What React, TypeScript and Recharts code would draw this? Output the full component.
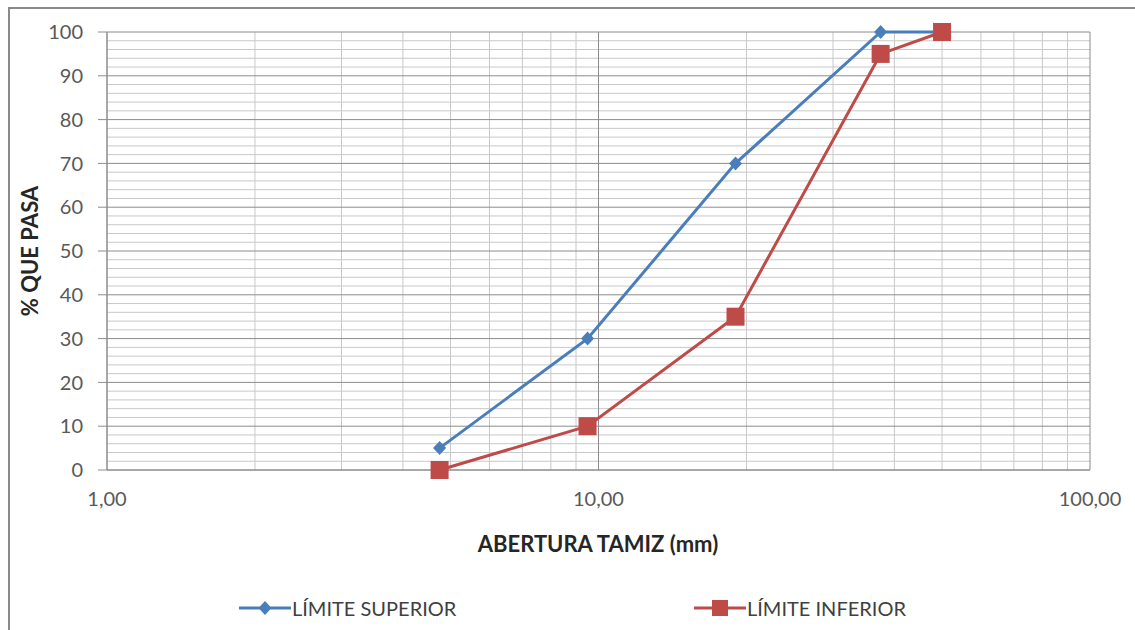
import React from "react";
import { LineChart, Line, XAxis, YAxis, ReferenceLine, Label } from "recharts";

// Sieve opening (mm) and % passing for the gradation envelope
const sieveSizes = [4.75, 9.5, 19, 37.5, 50];
const upperLimit = [5, 30, 70, 100, 100];
const lowerLimit = [0, 10, 35, 95, 100];

const xTicks = [1, 10, 100];
const yTicks = [0, 10, 20, 30, 40, 50, 60, 70, 80, 90, 100];

const BLUE = "#4A7EBB";
const RED = "#BE4B48";
const FONT = "Lato, 'Open Sans', sans-serif";
const TEXT = "#595959";
const MAJOR = "#8c8c8c";
const MINOR = "#c8c8c8";

const data = sieveSizes.map((size, i) => ({
  size,
  upper: upperLimit[i],
  lower: lowerLimit[i],
}));

// log minor lines 2..9 inside each decade, and every 2 % on the y axis
const xMinor = xTicks.slice(0, -1).flatMap((d) => [2, 3, 4, 5, 6, 7, 8, 9].map((m) => m * d));
const yMinor = yTicks.slice(0, -1).flatMap((t) => [2, 4, 6, 8].map((m) => t + m));

const fmtMm = (v: number) => v.toFixed(2).replace(".", ",");

function Diamond(props: any) {
  const { cx, cy } = props;
  if (cx == null || cy == null) return null;
  return <path d={`M${cx},${cy - 7}L${cx + 6.5},${cy}L${cx},${cy + 7}L${cx - 6.5},${cy}Z`} fill={BLUE} />;
}

function Square(props: any) {
  const { cx, cy } = props;
  if (cx == null || cy == null) return null;
  return <rect x={cx - 9} y={cy - 9} width={18} height={18} fill={RED} />;
}

function LegendItem({ left, color, marker, label }: { left: number; color: string; marker: "diamond" | "square"; label: string }) {
  return (
    <div style={{ position: "absolute", left, top: 0, display: "flex", alignItems: "center" }}>
      <svg width={52} height={20}>
        <line x1={0} y1={10} x2={52} y2={10} stroke={color} strokeWidth={3} />
        {marker === "diamond" ? (
          <path d="M26,3L32.5,10L26,17L19.5,10Z" fill={color} />
        ) : (
          <rect x={18} y={2} width={16} height={16} fill={color} />
        )}
      </svg>
      <span style={{ marginLeft: 1 }}>{label}</span>
    </div>
  );
}

export default function App() {
  return (
    <div style={{ position: "absolute", left: 0, top: 0, width: 1135, height: 630, background: "#fff", fontFamily: FONT }}>
      <div
        style={{
          position: "absolute",
          left: 8,
          top: 7,
          width: 1135,
          height: 640,
          border: "2px solid #8a8a8a",
          boxSizing: "border-box",
        }}
      />
      <LineChart
        width={1135}
        height={630}
        data={data}
        margin={{ top: 32, right: 45, bottom: 0, left: 0 }}
        style={{ position: "absolute", left: 0, top: 0 }}
      >
        {xMinor.map((v) => (
          <ReferenceLine key={`vx${v}`} x={v} stroke={MINOR} strokeWidth={1} />
        ))}
        {yMinor.map((v) => (
          <ReferenceLine key={`hy${v}`} y={v} stroke={MINOR} strokeWidth={1} />
        ))}
        {yTicks.map((v) => (
          <ReferenceLine key={`my${v}`} y={v} stroke={MAJOR} strokeWidth={1} />
        ))}
        {xTicks.map((v) => (
          <ReferenceLine key={`mx${v}`} x={v} stroke={MAJOR} strokeWidth={1} />
        ))}
        <XAxis
          dataKey="size"
          type="number"
          scale="log"
          domain={[1, 100]}
          ticks={xTicks}
          tickFormatter={fmtMm}
          allowDataOverflow
          height={160}
          axisLine={{ stroke: MAJOR }}
          tickLine={false}
          tickSize={8}
          tickMargin={14}
          tick={{ fill: TEXT, fontSize: 20, fontFamily: FONT }}
        >
          <Label
            content={() => (
              <text x={598} y={552} textAnchor="middle" fontSize={22} fontWeight={700} fill="#262626" fontFamily={FONT}>
                ABERTURA TAMIZ (mm)
              </text>
            )}
          />
        </XAxis>
        <YAxis
          type="number"
          domain={[0, 100]}
          ticks={yTicks}
          width={107}
          axisLine={{ stroke: MAJOR }}
          tickLine={{ stroke: MAJOR }}
          tickSize={9}
          tickMargin={15}
          tick={{ fill: TEXT, fontSize: 20, fontFamily: FONT }}
        >
          <Label
            content={() => (
              <text
                x={38}
                y={251}
                textAnchor="middle"
                fontSize={22}
                fontWeight={700}
                fill="#262626"
                fontFamily={FONT}
                transform="rotate(-90 38 251)"
              >
                % QUE PASA
              </text>
            )}
          />
        </YAxis>
        <Line
          dataKey="upper"
          name="LÍMITE SUPERIOR"
          stroke={BLUE}
          strokeWidth={3}
          dot={<Diamond />}
          activeDot={false}
          isAnimationActive={false}
        />
        <Line
          dataKey="lower"
          name="LÍMITE INFERIOR"
          stroke={RED}
          strokeWidth={3}
          dot={<Square />}
          activeDot={false}
          isAnimationActive={false}
        />
      </LineChart>
      <div style={{ position: "absolute", left: 0, top: 596, width: 1135, height: 26, fontSize: 20, color: "#404040" }}>
        <LegendItem left={239} color={BLUE} marker="diamond" label="LÍMITE SUPERIOR" />
        <LegendItem left={694} color={RED} marker="square" label="LÍMITE INFERIOR" />
      </div>
    </div>
  );
}
